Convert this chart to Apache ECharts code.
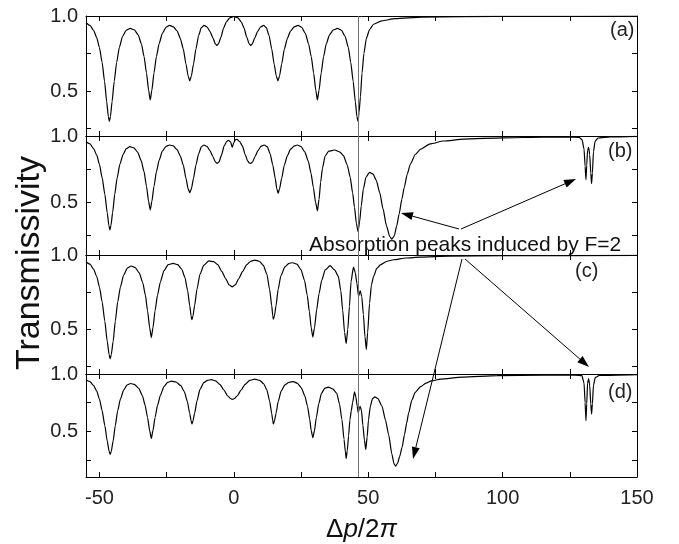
<!DOCTYPE html>
<html>
<head>
<meta charset="utf-8">
<script src="https://cdn.jsdelivr.net/npm/echarts@6/dist/echarts.min.js"></script>
<style>
html,body{margin:0;padding:0;background:#fff;}
#chart{width:679px;height:544px;}
</style>
</head>
<body>
<div id="chart"></div>
<script>
// ---- data ----
const panelLabels = ['(a)', '(b)', '(c)', '(d)'];
const yMins = [0.2, 0.1, 0.2, 0.1];
const xTickValues = [-50, -25, 0, 25, 50, 75, 100, 125, 150];
const xLabelValues = [-50, 0, 50, 100, 150];
const yTickValues = [0.25, 0.5, 0.75, 1.0];
const yLabelValues = [0.5, 1.0];
const markerX = 46.3;
const annotationText = 'Absorption peaks induced by F=2';

const dataA = [[-55,0.955],[-53.5,0.937],[-52.2,0.905],[-51,0.855],[-50,0.79],[-49,0.69],[-48.1,0.565],[-47.3,0.43],[-46.7,0.33],[-46.3,0.297],[-45.9,0.33],[-45.3,0.43],[-44.5,0.565],[-43.6,0.69],[-42.6,0.79],[-41.4,0.865],[-40,0.905],[-38.5,0.917],[-37,0.907],[-35.6,0.875],[-34.4,0.815],[-33.4,0.73],[-32.5,0.62],[-31.7,0.505],[-31.1,0.441],[-30.5,0.505],[-29.7,0.62],[-28.8,0.73],[-27.8,0.815],[-26.6,0.885],[-25.2,0.925],[-23.9,0.937],[-22.5,0.928],[-21.1,0.9],[-19.9,0.85],[-18.8,0.78],[-17.8,0.68],[-17,0.6],[-16.4,0.568],[-15.8,0.6],[-15,0.68],[-14.1,0.78],[-13.1,0.87],[-12.1,0.922],[-11.1,0.937],[-10,0.928],[-8.9,0.898],[-7.8,0.855],[-6.9,0.815],[-6.3,0.803],[-5.7,0.815],[-4.8,0.86],[-3.8,0.92],[-2.8,0.96],[-1.5,0.988],[0,0.997],[1.5,0.988],[2.8,0.96],[3.8,0.92],[4.8,0.86],[5.7,0.815],[6.3,0.803],[6.9,0.815],[7.8,0.855],[8.9,0.898],[10,0.928],[11.1,0.937],[12.1,0.922],[13.1,0.87],[14.1,0.78],[15,0.68],[15.8,0.6],[16.4,0.568],[17,0.6],[17.8,0.68],[18.8,0.78],[19.9,0.85],[21.1,0.9],[22.5,0.928],[23.9,0.937],[25.2,0.925],[26.6,0.885],[27.8,0.815],[28.8,0.73],[29.7,0.62],[30.5,0.505],[31.1,0.441],[31.7,0.505],[32.5,0.62],[33.4,0.73],[34.4,0.815],[35.6,0.875],[37,0.907],[38.5,0.917],[40,0.905],[41.4,0.865],[42.6,0.79],[43.5,0.69],[44.4,0.565],[45.2,0.43],[45.8,0.33],[46.2,0.297],[46.6,0.36],[47.1,0.46],[47.7,0.62],[48.4,0.75],[49.3,0.85],[50.5,0.91],[52,0.945],[55,0.968],[60,0.982],[70,0.992],[85,0.996],[110,0.998],[150,0.999]];

const dataB = [[-55,0.957],[-53.5,0.94],[-52.2,0.905],[-51,0.855],[-50,0.785],[-49,0.685],[-48,0.56],[-47.1,0.42],[-46.5,0.325],[-46.1,0.29],[-45.7,0.325],[-45.1,0.42],[-44.3,0.56],[-43.4,0.685],[-42.4,0.785],[-41.2,0.86],[-40,0.905],[-38.7,0.919],[-37.2,0.91],[-35.8,0.878],[-34.5,0.815],[-33.4,0.73],[-32.5,0.62],[-31.7,0.505],[-31.1,0.44],[-30.5,0.505],[-29.7,0.62],[-28.8,0.73],[-27.8,0.815],[-26.6,0.885],[-25.2,0.922],[-23.9,0.932],[-22.5,0.925],[-21.1,0.897],[-19.9,0.848],[-18.8,0.78],[-17.8,0.68],[-17,0.6],[-16.4,0.571],[-15.8,0.6],[-15,0.68],[-14.1,0.78],[-13.1,0.865],[-12.1,0.918],[-11.1,0.932],[-10,0.922],[-8.9,0.89],[-7.8,0.845],[-6.9,0.805],[-6.2,0.793],[-5.5,0.805],[-4.6,0.855],[-3.6,0.925],[-2.6,0.96],[-2.0,0.968],[-1.2,0.955],[-0.6,0.914],[0,0.95],[0.6,0.972],[1.2,0.975],[2.1,0.96],[3.2,0.925],[4.2,0.86],[5.2,0.81],[5.8,0.795],[6.3,0.793],[7,0.805],[7.9,0.845],[9,0.89],[10.1,0.922],[11.3,0.932],[12.5,0.918],[13.5,0.865],[14.5,0.78],[15.4,0.68],[16,0.6],[16.5,0.568],[17,0.6],[17.8,0.68],[18.8,0.78],[19.9,0.85],[21.1,0.9],[22.5,0.925],[23.6,0.932],[25,0.92],[26.4,0.88],[27.7,0.81],[28.7,0.72],[29.6,0.61],[30.4,0.5],[31.1,0.434],[31.7,0.52],[32.3,0.65],[33,0.76],[34,0.85],[35.3,0.885],[37.5,0.894],[39.5,0.878],[40.8,0.851],[42.2,0.78],[43.3,0.687],[44.2,0.57],[44.9,0.46],[45.6,0.34],[46.2,0.278],[46.8,0.35],[47.4,0.47],[48.2,0.6],[49.2,0.69],[50.5,0.725],[51.8,0.712],[53,0.665],[54.3,0.57],[55.5,0.45],[56.8,0.32],[58,0.24],[58.8,0.22],[59.7,0.245],[60.6,0.32],[61.5,0.41],[62.5,0.52],[63.4,0.61],[64.5,0.71],[65.7,0.788],[67.5,0.86],[69.5,0.9],[73,0.94],[78,0.962],[85.6,0.977],[100,0.986],[115,0.991],[125,0.993],[128.5,0.99],[129.6,0.97],[130.3,0.9],[130.7,0.77],[131,0.67],[131.3,0.78],[131.6,0.89],[132,0.914],[132.4,0.86],[132.8,0.72],[133.1,0.64],[133.4,0.72],[133.8,0.88],[134.4,0.96],[135.5,0.985],[140,0.993],[150,0.997]];

const dataC = [[-55,0.955],[-53.5,0.938],[-52.2,0.905],[-51,0.855],[-50,0.785],[-49,0.685],[-48,0.555],[-47.1,0.42],[-46.4,0.33],[-46,0.302],[-45.6,0.33],[-44.9,0.42],[-44.1,0.555],[-43.2,0.685],[-42.2,0.785],[-41,0.865],[-39.6,0.912],[-38.2,0.926],[-36.7,0.915],[-35.2,0.88],[-33.9,0.815],[-32.9,0.73],[-32.1,0.625],[-31.3,0.51],[-30.7,0.444],[-30.1,0.51],[-29.3,0.625],[-28.4,0.73],[-27.3,0.82],[-26,0.895],[-24.4,0.935],[-22.6,0.944],[-20.9,0.935],[-19.4,0.905],[-18.2,0.85],[-17.2,0.76],[-16.4,0.66],[-15.9,0.59],[-15.6,0.565],[-15.2,0.59],[-14.6,0.66],[-13.7,0.77],[-12.6,0.87],[-11.2,0.93],[-9.3,0.96],[-7.5,0.955],[-6,0.935],[-4.5,0.89],[-3,0.84],[-1.8,0.8],[-0.6,0.786],[0.6,0.8],[1.8,0.84],[3.3,0.89],[4.8,0.935],[6.3,0.958],[7.8,0.966],[9.5,0.958],[11,0.93],[12.3,0.87],[13.3,0.77],[14.1,0.66],[14.5,0.59],[14.7,0.568],[15.1,0.59],[15.7,0.66],[16.5,0.77],[17.5,0.86],[19,0.92],[20.5,0.944],[21.9,0.948],[23.5,0.938],[25,0.9],[26.3,0.83],[27.3,0.73],[28.1,0.62],[28.8,0.51],[29.4,0.448],[30,0.51],[30.8,0.63],[31.7,0.74],[32.7,0.83],[34,0.9],[35.8,0.928],[37.5,0.9],[38.9,0.856],[39.8,0.76],[40.5,0.63],[41.2,0.48],[41.8,0.405],[42.4,0.5],[43,0.653],[43.6,0.82],[44.5,0.919],[45.2,0.88],[45.8,0.81],[46.4,0.72],[47,0.761],[47.6,0.72],[48.2,0.6],[48.8,0.45],[49.3,0.365],[49.8,0.48],[50.5,0.676],[51.2,0.8],[52,0.856],[53.2,0.91],[54.5,0.934],[57,0.958],[59.4,0.968],[64,0.98],[69.4,0.986],[80,0.992],[100,0.995],[150,0.998]];

const dataD = [[-55,0.95],[-53.5,0.933],[-52.2,0.9],[-51,0.85],[-50,0.78],[-49,0.68],[-48,0.55],[-47.1,0.415],[-46.4,0.325],[-46,0.298],[-45.6,0.325],[-44.9,0.415],[-44.1,0.55],[-43.2,0.68],[-42.2,0.78],[-41,0.86],[-39.7,0.905],[-38.4,0.917],[-36.9,0.908],[-35.4,0.875],[-34,0.81],[-33,0.725],[-32.1,0.62],[-31.3,0.505],[-30.7,0.437],[-30.1,0.505],[-29.3,0.62],[-28.4,0.725],[-27.3,0.815],[-26,0.89],[-24.6,0.927],[-23.2,0.937],[-21.5,0.93],[-19.8,0.9],[-18.4,0.845],[-17.3,0.76],[-16.4,0.655],[-15.9,0.59],[-15.6,0.563],[-15.2,0.59],[-14.6,0.655],[-13.7,0.765],[-12.6,0.865],[-11.2,0.925],[-9.8,0.945],[-8.3,0.95],[-6.8,0.94],[-5.2,0.91],[-3.7,0.86],[-2.3,0.81],[-1.2,0.785],[-0.6,0.778],[0.2,0.785],[1.3,0.81],[2.7,0.86],[4.2,0.91],[5.9,0.945],[7.8,0.955],[9.6,0.945],[11.1,0.915],[12.3,0.86],[13.3,0.765],[14.1,0.655],[14.5,0.59],[14.7,0.563],[15.1,0.59],[15.7,0.655],[16.5,0.76],[17.6,0.85],[19,0.905],[20.6,0.928],[22.1,0.934],[23.6,0.92],[25.1,0.88],[26.4,0.81],[27.4,0.72],[28.2,0.61],[28.8,0.505],[29.4,0.442],[30,0.505],[30.7,0.62],[31.6,0.74],[32.6,0.83],[33.8,0.875],[35.2,0.886],[36.8,0.87],[38.3,0.831],[39.3,0.74],[40.2,0.604],[41,0.43],[41.5,0.32],[41.8,0.262],[42.2,0.33],[42.7,0.46],[43.2,0.6],[43.7,0.68],[44.2,0.75],[44.9,0.843],[45.4,0.8],[45.9,0.72],[46.3,0.66],[46.7,0.7],[47,0.717],[47.5,0.68],[48,0.553],[48.6,0.42],[49.1,0.34],[49.6,0.45],[50.1,0.6],[50.8,0.72],[51.6,0.785],[52.5,0.8],[53.6,0.785],[55.1,0.72],[56.4,0.6],[57.6,0.47],[58.8,0.3],[59.6,0.215],[60.2,0.195],[60.9,0.22],[61.7,0.28],[62.6,0.36],[63.5,0.47],[64.3,0.57],[65,0.654],[66.2,0.77],[67.5,0.84],[69.5,0.89],[71.5,0.92],[73.5,0.94],[76.9,0.955],[85,0.972],[98,0.985],[115,0.99],[127,0.991],[129.5,0.985],[130.3,0.92],[130.7,0.75],[131,0.593],[131.3,0.74],[131.6,0.92],[132,0.96],[132.4,0.9],[132.8,0.74],[133.1,0.65],[133.4,0.74],[133.8,0.9],[134.5,0.97],[136,0.988],[150,0.995]];

const panelData = [dataA, dataB, dataC, dataD];

// ---- layout ----
const FONT = 'Liberation Sans, Arial, Helvetica, sans-serif';
const gridTops = [16, 136, 255, 374];
const gridHeights = [120, 119, 119, 119];
const gridLeft = 86, gridRight = 42;

const grids = [], xAxes = [], yAxes = [], series = [];
for (let i = 0; i < 4; i++) {
  grids.push({left: gridLeft, right: gridRight, top: gridTops[i], height: gridHeights[i]});
  const isBottom = i === 3;
  const axLine = {show: true, onZero: false, lineStyle: {color: '#000', width: 1}};
  const tick = {show: true, inside: true, length: 5, lineStyle: {color: '#000'}, customValues: xTickValues};
  xAxes.push({
    type: 'value', gridIndex: i, position: 'bottom', min: -55, max: 150,
    axisLine: axLine, axisTick: tick, splitLine: {show: false},
    axisLabel: {show: isBottom, customValues: xLabelValues, fontFamily: FONT, fontSize: 20, color: '#222', margin: 11},
    name: isBottom ? '{n|\u0394}{i|p}{n|/2}{i|\u03c0}' : '',
    nameLocation: 'middle', nameGap: 40,
    nameTextStyle: {rich: {n: {fontFamily: FONT, fontSize: 26, color: '#111'}, i: {fontFamily: FONT, fontSize: 26, fontStyle: 'italic', color: '#111'}}}
  });
  xAxes.push({
    type: 'value', gridIndex: i, position: 'top', min: -55, max: 150,
    axisLine: axLine, axisTick: tick, splitLine: {show: false}, axisLabel: {show: false}
  });
  const ytick = {show: true, inside: true, length: 5, lineStyle: {color: '#000'}, customValues: yTickValues};
  yAxes.push({
    type: 'value', gridIndex: i, position: 'left', min: yMins[i], max: 1.0,
    axisLine: axLine, axisTick: ytick, splitLine: {show: false},
    axisLabel: {show: true, customValues: yLabelValues, formatter: v => v.toFixed(1), fontFamily: FONT, fontSize: 20, color: '#222', margin: 8}
  });
  yAxes.push({
    type: 'value', gridIndex: i, position: 'right', min: yMins[i], max: 1.0,
    axisLine: axLine, axisTick: ytick, splitLine: {show: false}, axisLabel: {show: false}
  });
  series.push({
    type: 'line', xAxisIndex: 2 * i, yAxisIndex: 2 * i, data: panelData[i],
    showSymbol: false, smooth: 0.2, smoothMonotone: 'x',
    lineStyle: {color: '#000', width: 1.2}, silent: true,
    markLine: {silent: true, symbol: 'none', label: {show: false},
      lineStyle: {color: '#707070', width: 1, type: 'solid'}, data: [{xAxis: markerX}]}
  });
}

// ---- annotations (pixel geometry) ----
function arrow(x1, y1, x2, y2) {
  const dx = x2 - x1, dy = y2 - y1, L = Math.hypot(dx, dy);
  const ux = dx / L, uy = dy / L, hl = 12, hw = 4;
  const bx = x2 - ux * hl, by = y2 - uy * hl;
  return [
    {type: 'line', shape: {x1, y1, x2: bx, y2: by}, style: {stroke: '#000', lineWidth: 1}, silent: true},
    {type: 'polygon', shape: {points: [[x2, y2], [bx - uy * hw, by + ux * hw], [bx + uy * hw, by - ux * hw]]}, style: {fill: '#000'}, silent: true}
  ];
}
const graphics = [];
const labelPos = [[610, 20], [608, 141], [575, 261], [608, 382]];
panelLabels.forEach((t, i) => graphics.push({type: 'text', x: labelPos[i][0], y: labelPos[i][1], silent: true,
  style: {text: t, fontFamily: FONT, fontSize: 20, fill: '#222', textVerticalAlign: 'top'}}));
graphics.push({type: 'text', x: 30, y: 263, rotation: Math.PI / 2, silent: true,
  style: {text: 'Transmissivity', fontFamily: FONT, fontSize: 34, fill: '#111', textAlign: 'center', textVerticalAlign: 'middle'}});
graphics.push({type: 'text', x: 309, y: 245, silent: true,
  style: {text: annotationText, fontFamily: FONT, fontSize: 21, fill: '#111', textVerticalAlign: 'middle'}});
graphics.push(...arrow(459, 229, 401, 213));
graphics.push(...arrow(461, 229, 576, 179));
graphics.push(...arrow(465, 259, 589, 367));
graphics.push(...arrow(462, 259, 413, 459));

const chart = echarts.init(document.getElementById('chart'), null, {renderer: 'canvas'});
chart.setOption({
  animation: false,
  backgroundColor: '#fff',
  grid: grids, xAxis: xAxes, yAxis: yAxes, series: series,
  graphic: graphics
});
</script>
</body>
</html>
